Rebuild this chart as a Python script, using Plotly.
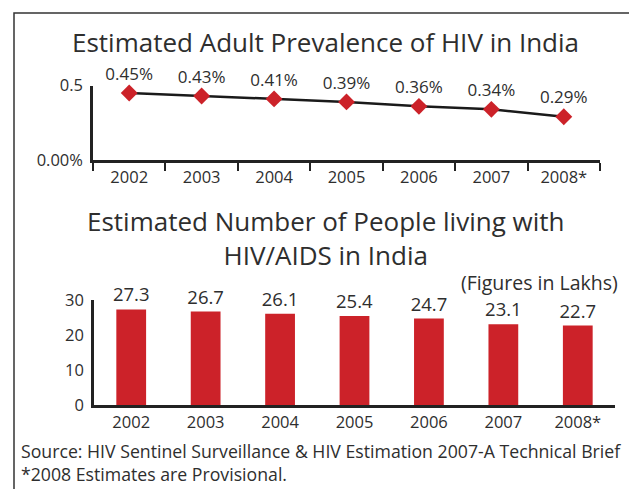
import plotly.graph_objects as go

years = ["2002", "2003", "2004", "2005", "2006", "2007", "2008*"]
prevalence = [0.45, 0.43, 0.41, 0.39, 0.36, 0.34, 0.29]
prevalence_labels = ["0.45%", "0.43%", "0.41%", "0.39%", "0.36%", "0.34%", "0.29%"]
people_lakhs = [27.3, 26.7, 26.1, 25.4, 24.7, 23.1, 22.7]
people_labels = ["27.3", "26.7", "26.1", "25.4", "24.7", "23.1", "22.7"]

W, H = 637, 489
PAGE_OFFSET = 8  # default page margin around the figure
FONT = "Open Sans"
RED = "#CC2229"
DARK = "#222222"
TXT = "#2e2e2e"


def px_x(x):
    return (x - PAGE_OFFSET) / W


def px_y(y):
    return 1 - (y - PAGE_OFFSET) / H


fig = go.Figure()

fig.add_trace(go.Scatter(
    x=years, y=prevalence, mode="lines+markers+text",
    line=dict(color="#1a1a1a", width=2.5),
    marker=dict(symbol="diamond", size=13, color=RED),
    text=prevalence_labels, textposition="top center",
    textfont=dict(family=FONT, size=17, color=TXT),
    xaxis="x", yaxis="y", showlegend=False, cliponaxis=False,
))

fig.add_trace(go.Bar(
    x=years, y=people_lakhs, marker=dict(color=RED, line=dict(width=0)),
    text=people_labels, textposition="outside", constraintext="none",
    textfont=dict(family=FONT, size=18.5, color=TXT),
    xaxis="x2", yaxis="y2", showlegend=False, cliponaxis=False,
))

axis_common = dict(
    showgrid=False, zeroline=False, showline=True, linecolor=DARK, linewidth=2.5,
    tickfont=dict(family=FONT, size=16.5, color=TXT), fixedrange=True,
    automargin=False,
)

fig.update_layout(
    template="none",
    width=W, height=H,
    margin=dict(l=0, r=0, t=0, b=0, pad=0, autoexpand=False),
    paper_bgcolor="white", plot_bgcolor="white",
    bargap=0.6,
    xaxis=dict(
        axis_common, domain=[px_x(93), px_x(600)], anchor="y",
        type="category", range=[-0.5, 6.5],
        ticks="outside", tickson="boundaries", ticklen=8, tickwidth=2, tickcolor=DARK,
    ),
    yaxis=dict(
        axis_common, domain=[px_y(160), px_y(85.5)], anchor="x",
        range=[0, 0.5], tickvals=[0, 0.5], ticktext=["0.00%", "0.5"],
        ticks="", ticklabelstandoff=4,
    ),
    xaxis2=dict(
        axis_common, domain=[px_x(94), px_x(615)], anchor="y2",
        type="category", range=[-0.5, 6.5],
        ticks="",
    ),
    yaxis2=dict(
        axis_common, domain=[px_y(405), px_y(300)], anchor="x2",
        range=[0, 30], tickvals=[0, 10, 20, 30],
        ticks="", ticklabelstandoff=4,
    ),
    annotations=[
        dict(text="Estimated Adult Prevalence of HIV in India", x=px_x(325), y=px_y(42),
             xref="paper", yref="paper", showarrow=False, xanchor="center", yanchor="middle",
             font=dict(family=FONT, size=26, color=TXT)),
        dict(text="Estimated Number of People living with<br>HIV/AIDS in India",
             x=px_x(325), y=px_y(238), xref="paper", yref="paper", showarrow=False,
             xanchor="center", yanchor="middle",
             font=dict(family=FONT, size=26, color=TXT)),
        dict(text="(Figures in Lakhs)", x=px_x(539), y=px_y(282),
             xref="paper", yref="paper", showarrow=False, xanchor="center", yanchor="middle",
             borderpad=0,
             font=dict(family=FONT, size=19.5, color=TXT)),
        dict(text="Source: HIV Sentinel Surveillance &amp; HIV Estimation 2007-A Technical Brief<br>*2008 Estimates are Provisional.",
             x=px_x(19), y=px_y(462), xref="paper", yref="paper", showarrow=False,
             xanchor="left", yanchor="middle", align="left",
             font=dict(family=FONT, size=17.7, color=TXT)),
    ],
    shapes=[
        dict(type="rect", xref="paper", yref="paper",
             x0=px_x(14), x1=px_x(635), y0=px_y(500), y1=px_y(13),
             line=dict(color="#333333", width=1.5)),
    ],
)

fig.write_html("out.html")
